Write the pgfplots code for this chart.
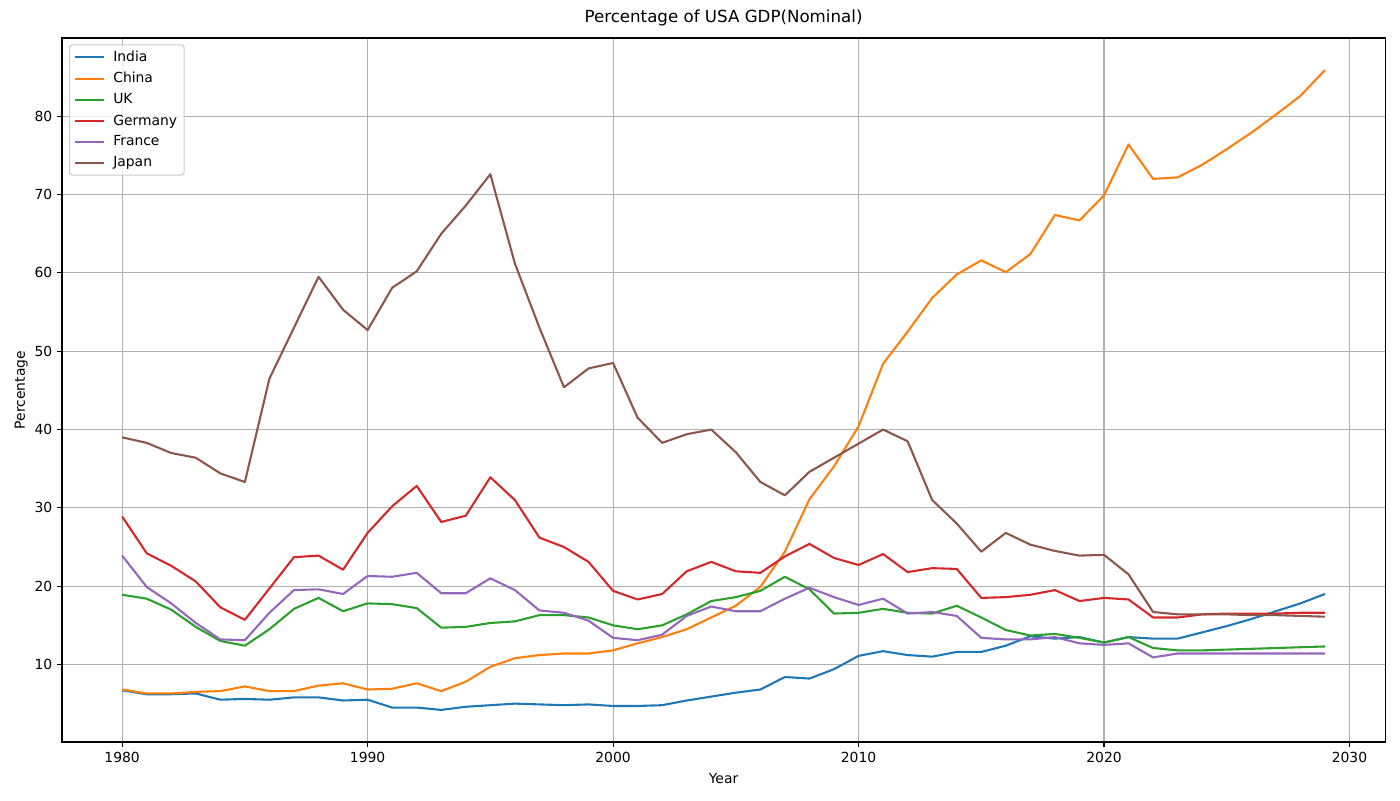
\documentclass[border=0pt]{standalone}
\usepackage{pgfplots}
\pgfplotsset{compat=1.18}
\usepackage{fontspec}
\setmainfont{DejaVu Sans}
\definecolor{c1}{HTML}{1F77B4}
\definecolor{c2}{HTML}{FF7F0E}
\definecolor{c3}{HTML}{2CA02C}
\definecolor{c4}{HTML}{D62728}
\definecolor{c5}{HTML}{9467BD}
\definecolor{c6}{HTML}{8C564B}
\definecolor{gridc}{HTML}{B0B0B0}
\definecolor{legc}{HTML}{CCCCCC}
\begin{document}
\begin{tikzpicture}
\useasboundingbox (0,0) rectangle (1008pt,576pt);
\begin{axis}[
  at={(44.64pt,41.76pt)}, anchor=south west,
  scale only axis, width=952.6pt, height=506.9pt,
  xmin=1977.55, xmax=2031.45, ymin=0.1, ymax=90,
  xtick={1980,1990,...,2030}, ytick={10,20,...,80},
  xticklabel style={/pgf/number format/1000 sep={}},
  /pgf/number format/assume math mode=true,
  tick label style={font=\fontsize{10}{12}\selectfont},
  tick pos=left, tick align=outside, major tick length=3.5pt,
  every tick/.style={black, line width=0.8pt},
  axis line style={line width=0.8pt},
  grid=major, major grid style={gridc, line width=0.8pt},
  title={Percentage of USA GDP(Nominal)},
  title style={font=\fontsize{12}{14}\selectfont, yshift=-1pt},
  xlabel={Year}, ylabel={Percentage},
  xlabel style={yshift=-1pt},
  ylabel style={yshift=-2pt},
  label style={font=\fontsize{10}{12}\selectfont},
  legend style={at={(0.0053,0.991)}, anchor=north west, draw=legc, line width=0.8pt, rounded corners=2pt,
    font=\fontsize{10}{12}\selectfont, fill=white, fill opacity=0.8, text opacity=1, draw opacity=1,
    row sep=2.3pt, inner xsep=3pt, inner ysep=2.4pt},
  legend cell align=left,
  legend image code/.code={\draw[#1] (0pt,0pt) -- (21pt,0pt); \path (25pt,0pt);},
  every axis plot/.append style={line width=1.5pt, line join=round},
]
\addplot[c1] coordinates {(1980,6.7)(1981,6.2)(1982,6.2)(1983,6.3)(1984,5.5)(1985,5.6)(1986,5.5)(1987,5.8)(1988,5.8)(1989,5.4)(1990,5.5)(1991,4.5)(1992,4.5)(1993,4.2)(1994,4.6)(1995,4.8)(1996,5.0)(1997,4.9)(1998,4.8)(1999,4.9)(2000,4.7)(2001,4.7)(2002,4.8)(2003,5.4)(2004,5.9)(2005,6.4)(2006,6.8)(2007,8.4)(2008,8.2)(2009,9.4)(2010,11.1)(2011,11.7)(2012,11.2)(2013,11.0)(2014,11.6)(2015,11.6)(2016,12.4)(2017,13.6)(2018,13.3)(2019,13.5)(2020,12.8)(2021,13.5)(2022,13.3)(2023,13.3)(2024,14.1)(2025,14.9)(2026,15.8)(2027,16.8)(2028,17.8)(2029,19.0)};
\addlegendentry{India}
\addplot[c2] coordinates {(1980,6.8)(1981,6.3)(1982,6.3)(1983,6.5)(1984,6.6)(1985,7.2)(1986,6.6)(1987,6.6)(1988,7.3)(1989,7.6)(1990,6.8)(1991,6.9)(1992,7.6)(1993,6.6)(1994,7.8)(1995,9.7)(1996,10.8)(1997,11.2)(1998,11.4)(1999,11.4)(2000,11.8)(2001,12.7)(2002,13.5)(2003,14.5)(2004,16.0)(2005,17.5)(2006,19.9)(2007,24.4)(2008,31.1)(2009,35.3)(2010,40.4)(2011,48.4)(2012,52.5)(2013,56.8)(2014,59.8)(2015,61.6)(2016,60.1)(2017,62.4)(2018,67.4)(2019,66.7)(2020,69.9)(2021,76.4)(2022,72.0)(2023,72.2)(2024,73.8)(2025,75.8)(2026,77.9)(2027,80.2)(2028,82.6)(2029,85.9)};
\addlegendentry{China}
\addplot[c3] coordinates {(1980,18.9)(1981,18.4)(1982,17.0)(1983,14.8)(1984,13.0)(1985,12.4)(1986,14.5)(1987,17.1)(1988,18.5)(1989,16.8)(1990,17.8)(1991,17.7)(1992,17.2)(1993,14.7)(1994,14.8)(1995,15.3)(1996,15.5)(1997,16.3)(1998,16.3)(1999,16.0)(2000,15.0)(2001,14.5)(2002,15.0)(2003,16.4)(2004,18.1)(2005,18.6)(2006,19.4)(2007,21.2)(2008,19.6)(2009,16.5)(2010,16.6)(2011,17.1)(2012,16.6)(2013,16.5)(2014,17.5)(2015,16.0)(2016,14.4)(2017,13.7)(2018,13.9)(2019,13.4)(2020,12.8)(2021,13.5)(2022,12.1)(2023,11.8)(2024,11.8)(2025,11.9)(2026,12.0)(2027,12.1)(2028,12.2)(2029,12.3)};
\addlegendentry{UK}
\addplot[c4] coordinates {(1980,28.9)(1981,24.2)(1982,22.6)(1983,20.6)(1984,17.3)(1985,15.7)(1986,19.7)(1987,23.7)(1988,23.9)(1989,22.1)(1990,26.8)(1991,30.2)(1992,32.8)(1993,28.2)(1994,29.0)(1995,33.9)(1996,31.0)(1997,26.2)(1998,25.0)(1999,23.1)(2000,19.4)(2001,18.3)(2002,19.0)(2003,21.9)(2004,23.1)(2005,21.9)(2006,21.7)(2007,23.8)(2008,25.4)(2009,23.6)(2010,22.7)(2011,24.1)(2012,21.8)(2013,22.3)(2014,22.2)(2015,18.5)(2016,18.6)(2017,18.9)(2018,19.5)(2019,18.1)(2020,18.5)(2021,18.3)(2022,16.0)(2023,16.0)(2024,16.4)(2025,16.5)(2026,16.5)(2027,16.5)(2028,16.6)(2029,16.6)};
\addlegendentry{Germany}
\addplot[c5] coordinates {(1980,23.9)(1981,19.9)(1982,17.8)(1983,15.3)(1984,13.2)(1985,13.1)(1986,16.6)(1987,19.5)(1988,19.6)(1989,19.0)(1990,21.3)(1991,21.2)(1992,21.7)(1993,19.1)(1994,19.1)(1995,21.0)(1996,19.5)(1997,16.9)(1998,16.6)(1999,15.6)(2000,13.4)(2001,13.1)(2002,13.8)(2003,16.2)(2004,17.4)(2005,16.8)(2006,16.8)(2007,18.4)(2008,19.8)(2009,18.6)(2010,17.6)(2011,18.4)(2012,16.5)(2013,16.7)(2014,16.2)(2015,13.4)(2016,13.2)(2017,13.2)(2018,13.5)(2019,12.7)(2020,12.5)(2021,12.7)(2022,10.9)(2023,11.4)(2024,11.4)(2025,11.4)(2026,11.4)(2027,11.4)(2028,11.4)(2029,11.4)};
\addlegendentry{France}
\addplot[c6] coordinates {(1980,39.0)(1981,38.3)(1982,37.0)(1983,36.4)(1984,34.4)(1985,33.3)(1986,46.5)(1987,53.0)(1988,59.5)(1989,55.3)(1990,52.7)(1991,58.1)(1992,60.2)(1993,65.0)(1994,68.6)(1995,72.6)(1996,61.2)(1997,53.0)(1998,45.4)(1999,47.8)(2000,48.5)(2001,41.5)(2002,38.3)(2003,39.4)(2004,40.0)(2005,37.1)(2006,33.3)(2007,31.6)(2008,34.6)(2009,36.4)(2010,38.2)(2011,40.0)(2012,38.5)(2013,31.0)(2014,28.0)(2015,24.4)(2016,26.8)(2017,25.3)(2018,24.5)(2019,23.9)(2020,24.0)(2021,21.5)(2022,16.7)(2023,16.4)(2024,16.4)(2025,16.4)(2026,16.3)(2027,16.3)(2028,16.2)(2029,16.1)};
\addlegendentry{Japan}
\end{axis}
\end{tikzpicture}
\end{document}
